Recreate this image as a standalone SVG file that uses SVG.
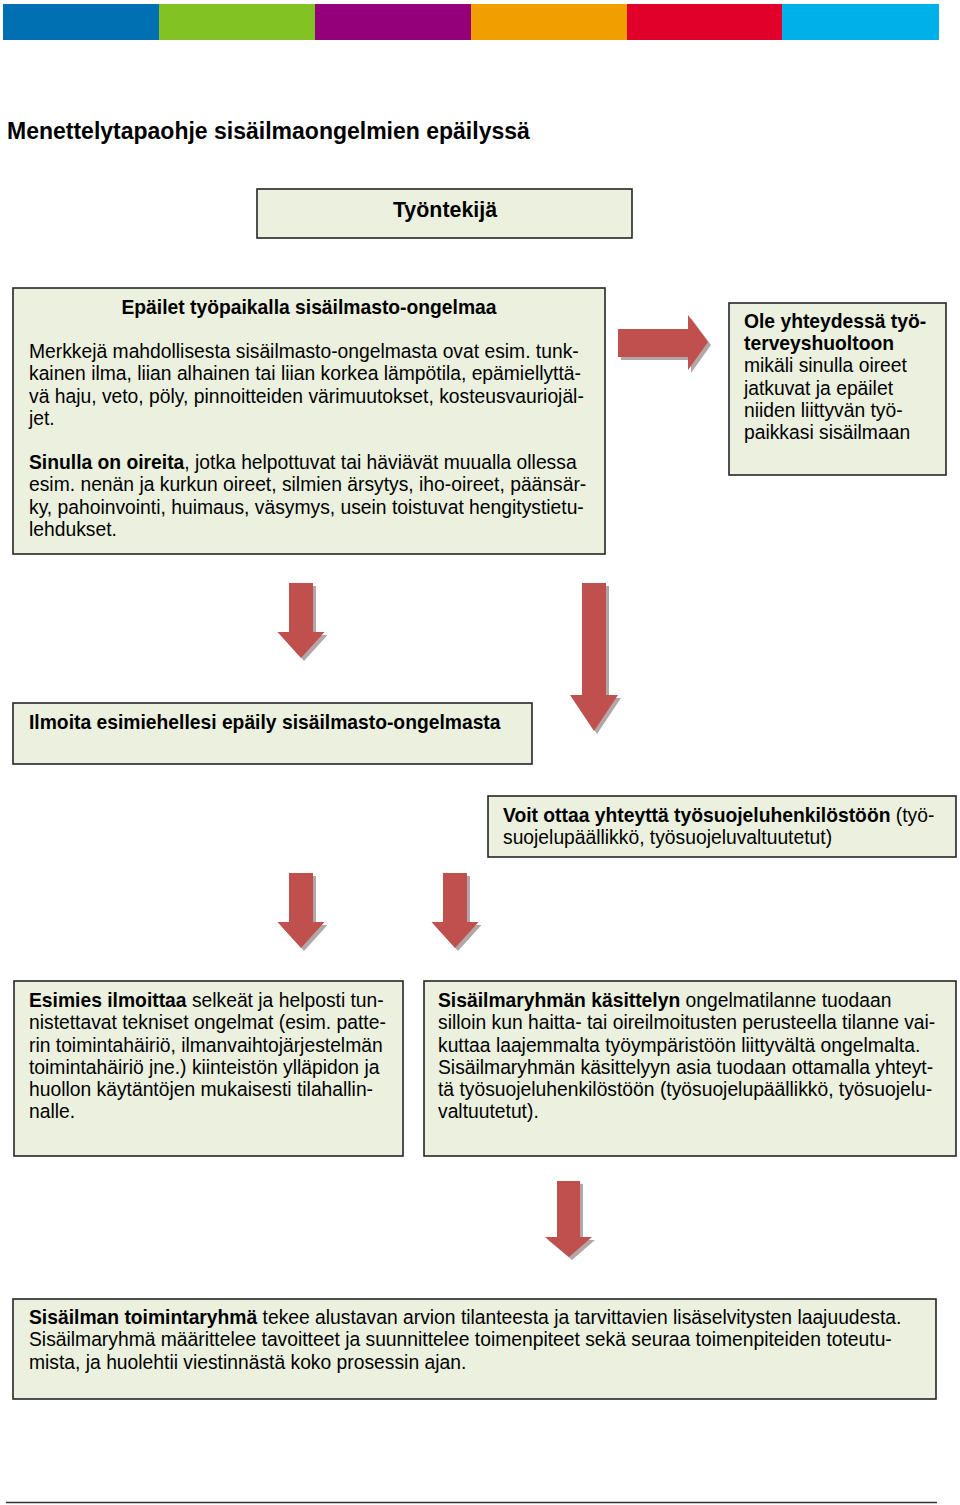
<svg xmlns="http://www.w3.org/2000/svg" width="960" height="1505" viewBox="0 0 960 1505">
<style>
.box{fill:#ebf1de;stroke:#262626;stroke-width:1.6}
text{font-family:"Liberation Sans",Arial,sans-serif;font-size:19.3px;fill:#000}
.b{font-weight:bold}
.arr{fill:#c0504d}
.sh{fill:#a09090;opacity:0.8}
</style>
<defs>
<path id="dshort" d="M0,0 H24 V49 H35.5 L12,75 L-11.5,49 H0 Z"/>
</defs>
<g id="colorbar">
<rect x="3" y="4" width="156" height="36" fill="#0070b2"/>
<rect x="159" y="4" width="156" height="36" fill="#82c323"/>
<rect x="315" y="4" width="156" height="36" fill="#93007a"/>
<rect x="471" y="4" width="156" height="36" fill="#f09e00"/>
<rect x="627" y="4" width="155" height="36" fill="#e1002a"/>
<rect x="782" y="4" width="157" height="36" fill="#00b0e8"/>
</g>
<text x="7" y="138.5" class="b" style="font-size:23px">Menettelytapaohje sisäilmaongelmien epäilyssä</text>
<g id="node-tyontekija">
<rect class="box" x="257" y="189" width="375" height="49"/>
<text x="445" y="217" class="b" text-anchor="middle" style="font-size:21.4px">Työntekijä</text>
</g>
<g id="node-epailet">
<rect class="box" x="13" y="288" width="592" height="266"/>
<text x="309" y="313.5" class="b" text-anchor="middle">Epäilet työpaikalla sisäilmasto-ongelmaa</text>
<text x="29" y="357.5">Merkkejä mahdollisesta sisäilmasto-ongelmasta ovat esim. tunk-</text>
<text x="29" y="380">kainen ilma, liian alhainen tai liian korkea lämpötila, epämiellyttä-</text>
<text x="29" y="402.5">vä haju, veto, pöly, pinnoitteiden värimuutokset, kosteusvauriojäl-</text>
<text x="29" y="424.5">jet.</text>
<text x="29" y="468.5"><tspan class="b">Sinulla on oireita</tspan>, jotka helpottuvat tai häviävät muualla ollessa</text>
<text x="29" y="491">esim. nenän ja kurkun oireet, silmien ärsytys, iho-oireet, päänsär-</text>
<text x="29" y="513.5">ky, pahoinvointi, huimaus, väsymys, usein toistuvat hengitystietu-</text>
<text x="29" y="535.5">lehdukset.</text>
</g>
<g id="node-tyoterveys">
<rect class="box" x="729" y="303" width="217" height="172"/>
<text x="744" y="327.5" class="b">Ole yhteydessä työ-</text>
<text x="744" y="349.5" class="b">terveyshuoltoon</text>
<text x="744" y="372">mikäli sinulla oireet</text>
<text x="744" y="394.5">jatkuvat ja epäilet</text>
<text x="744" y="416.5">niiden liittyvän työ-</text>
<text x="744" y="439">paikkasi sisäilmaan</text>
</g>
<g id="node-ilmoita">
<rect class="box" x="13" y="703" width="519" height="61"/>
<text x="29" y="729" class="b">Ilmoita esimiehellesi epäily sisäilmasto-ongelmasta</text>
</g>
<g id="node-voit">
<rect class="box" x="488" y="796" width="468" height="61"/>
<text x="503" y="821.5"><tspan class="b">Voit ottaa yhteyttä työsuojeluhenkilöstöön</tspan> (työ-</text>
<text x="503" y="843.5">suojelupäällikkö, työsuojeluvaltuutetut)</text>
</g>
<g id="node-esimies">
<rect class="box" x="14" y="981" width="389" height="175"/>
<text x="29" y="1006.5"><tspan class="b">Esimies ilmoittaa</tspan> selkeät ja helposti tun-</text>
<text x="29" y="1029">nistettavat tekniset ongelmat (esim. patte-</text>
<text x="29" y="1051.5">rin toimintahäiriö, ilmanvaihtojärjestelmän</text>
<text x="29" y="1073.5">toimintahäiriö jne.) kiinteistön ylläpidon ja</text>
<text x="29" y="1096">huollon käytäntöjen mukaisesti tilahallin-</text>
<text x="29" y="1118">nalle.</text>
</g>
<g id="node-sisailmaryhma">
<rect class="box" x="424" y="981" width="532" height="175"/>
<text x="438" y="1006.5"><tspan class="b">Sisäilmaryhmän käsittelyn</tspan> ongelmatilanne tuodaan</text>
<text x="438" y="1029">silloin kun haitta- tai oireilmoitusten perusteella tilanne vai-</text>
<text x="438" y="1051.5">kuttaa laajemmalta työympäristöön liittyvältä ongelmalta.</text>
<text x="438" y="1073.5">Sisäilmaryhmän käsittelyyn asia tuodaan ottamalla yhteyt-</text>
<text x="438" y="1096">tä työsuojeluhenkilöstöön (työsuojelupäällikkö, työsuojelu-</text>
<text x="438" y="1118">valtuutetut).</text>
</g>
<g id="node-toimintaryhma">
<rect class="box" x="13" y="1299" width="923" height="100"/>
<text x="29" y="1323.5"><tspan class="b">Sisäilman toimintaryhmä</tspan> tekee alustavan arvion tilanteesta ja tarvittavien lisäselvitysten laajuudesta.</text>
<text x="29" y="1346">Sisäilmaryhmä määrittelee tavoitteet ja suunnittelee toimenpiteet sekä seuraa toimenpiteiden toteutu-</text>
<text x="29" y="1368.5">mista, ja huolehtii viestinnästä koko prosessin ajan.</text>
</g>
<g id="connectors">
<path class="sh" d="M621,332 H691 V318 L711,345 L691,373 V360 H621 Z"/>
<path class="arr" d="M618,329 H688 V315 L708,342 L688,370 V357 H618 Z"/>
<use href="#dshort" class="sh" x="292" y="586"/>
<use href="#dshort" class="arr" x="289" y="583"/>
<path class="sh" d="M585,586 H609 V698 H621 L597,734 L573,698 H585 Z"/>
<path class="arr" d="M582,583 H606 V695 H618 L594,731 L570,695 H582 Z"/>
<use href="#dshort" class="sh" x="292" y="876"/>
<use href="#dshort" class="arr" x="289" y="873"/>
<use href="#dshort" class="sh" x="446" y="876"/>
<use href="#dshort" class="arr" x="443" y="873"/>
<path class="sh" d="M560,1184 H583 V1240 H595 L572,1260 L548,1240 H560 Z"/>
<path class="arr" d="M557,1181 H580 V1237 H592 L569,1257 L545,1237 H557 Z"/>
</g>
<line x1="6" y1="1502.5" x2="937" y2="1502.5" stroke="#333" stroke-width="1.5"/>
</svg>
